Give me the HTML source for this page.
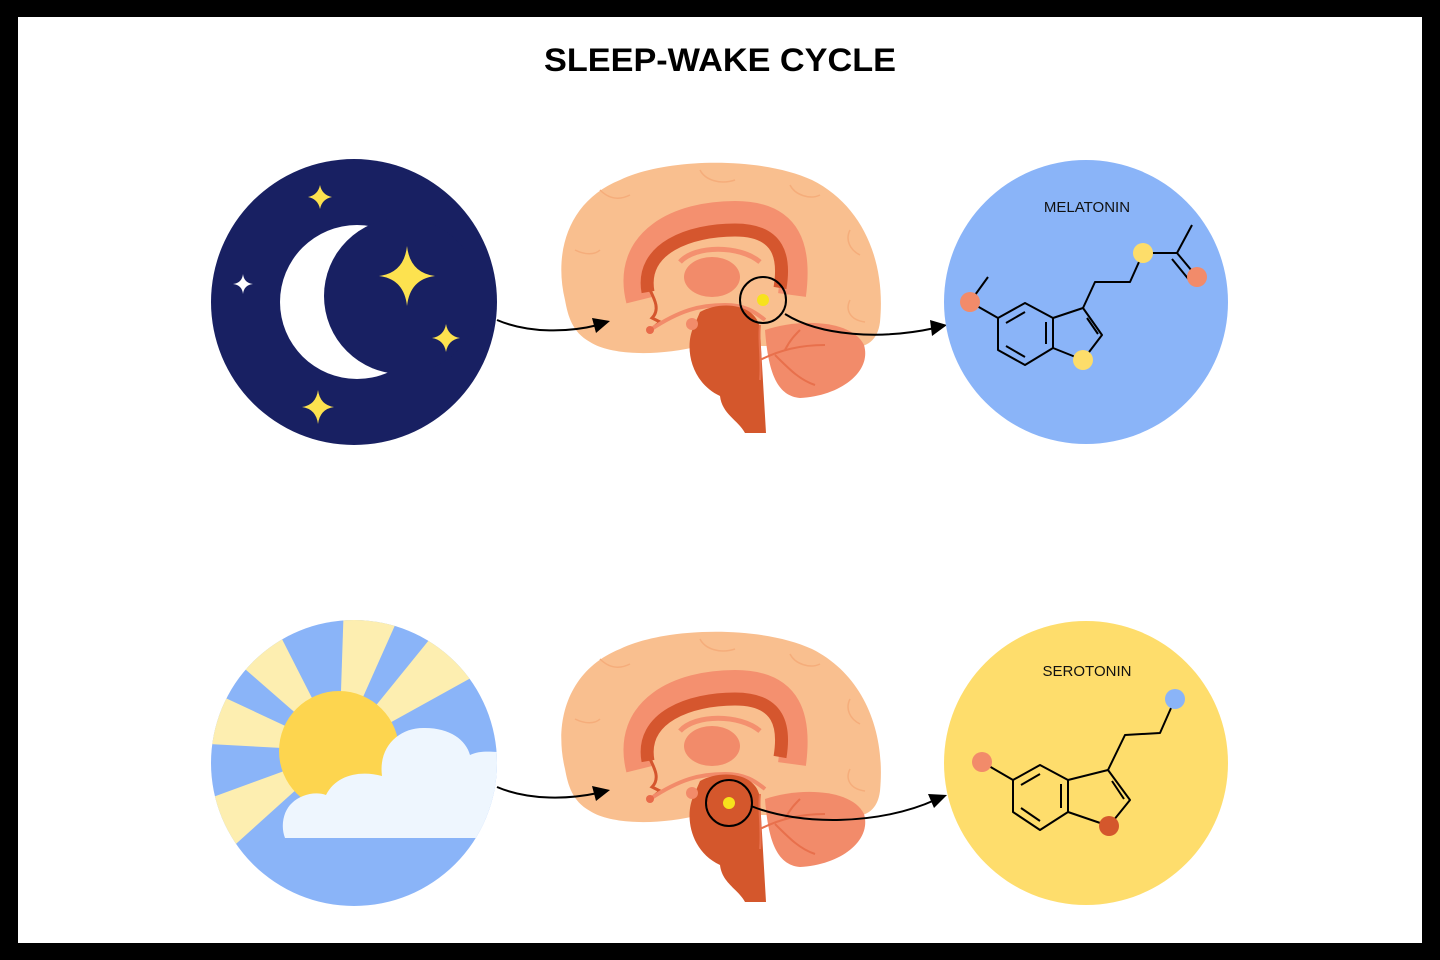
<!DOCTYPE html>
<html><head><meta charset="utf-8"><style>html,body{margin:0;padding:0;background:#000}svg{display:block}</style></head>
<body>
<svg width="1440" height="960" viewBox="0 0 1440 960" xmlns="http://www.w3.org/2000/svg">
<defs>
<clipPath id="sunclip"><circle cx="354" cy="763" r="143"/></clipPath>
<g id="brain">
 <path d="M565,300 C553,250 570,200 620,180 C665,158 760,156 812,180 C862,205 886,260 880,322 C877,346 860,350 840,346 L700,346 C660,356 612,356 590,342 C572,332 568,316 565,300Z" fill="#f9bf8f"/>
 <path d="M600,190 C610,200 620,200 630,195 M700,170 C705,180 720,185 735,180 M790,185 C795,195 810,200 820,195 M850,230 C845,240 850,250 860,255 M575,250 C585,255 595,255 600,250 M850,300 C845,310 850,320 865,322" fill="none" stroke="#f5ad7b" stroke-width="1.5"/>
 <path d="M640,300 C625,240 680,215 735,215 C790,215 798,250 792,295" fill="none" stroke="#f4906f" stroke-width="28"/>
 <path d="M648,292 C640,248 690,230 735,230 C780,230 785,258 780,288" fill="none" stroke="#d5562e" stroke-width="13"/>
 <path d="M650,290 C655,300 660,310 652,318 L660,322 L648,332" fill="none" stroke="#d5562e" stroke-width="3"/>
 <path d="M680,262 C695,245 740,245 760,262" fill="none" stroke="#f4906f" stroke-width="5"/>
 <ellipse cx="712" cy="277" rx="28" ry="20" fill="#f28b6a"/>
 <path d="M650,330 C680,310 700,305 725,305 C745,305 755,312 765,320" fill="none" stroke="#f28b6a" stroke-width="4"/>
 <path d="M765,330 C800,318 852,320 864,345 C872,372 840,396 800,398 C776,396 768,370 765,330Z" fill="#f28b6a"/>
 <path d="M700,312 C722,300 758,304 760,330 L766,433 L745,433 C738,420 722,414 720,396 C690,382 684,346 694,326 Z" fill="#d4572c"/>
 <path d="M760,325 C758,340 762,360 760,380 M760,360 C780,350 800,345 825,345 M775,355 C790,370 800,380 815,385 M785,350 C790,340 795,335 800,330" fill="none" stroke="#e8704c" stroke-width="2"/>
 <circle cx="650" cy="330" r="4" fill="#e86a4a"/>
 <circle cx="692" cy="324" r="6" fill="#f28b6a"/>
</g>
</defs>
<rect x="18" y="17" width="1404" height="926" fill="#fff"/>
<text x="720" y="71" text-anchor="middle" font-family="Liberation Sans, sans-serif" font-weight="bold" font-size="32" textLength="352" lengthAdjust="spacingAndGlyphs" fill="#000">SLEEP-WAKE CYCLE</text>

<!-- night -->
<circle cx="354" cy="302" r="143" fill="#182062"/>
<circle cx="357" cy="302" r="77" fill="#fff"/>
<circle cx="402" cy="296" r="78" fill="#182062"/>
<g fill="#fde24f">
 <path d="M320,185 Q322,195 332,197 Q322,199 320,209 Q318,199 308,197 Q318,195 320,185Z"/>
 <path d="M407,246 Q410,273 435,276 Q410,279 407,306 Q404,279 379,276 Q404,273 407,246Z"/>
 <path d="M446,324 Q448,336 460,338 Q448,340 446,352 Q444,340 432,338 Q444,336 446,324Z"/>
 <path d="M318,390 Q320,405 334,407 Q320,409 318,424 Q316,409 302,407 Q316,405 318,390Z"/>
</g>
<path d="M243,274 Q244,283 253,284 Q244,285 243,294 Q242,285 233,284 Q242,283 243,274Z" fill="#fff"/>

<!-- sun -->
<g clip-path="url(#sunclip)">
 <rect x="200" y="610" width="310" height="310" fill="#8ab4f8"/>
 <g fill="#fdeeb0" transform="translate(339,751)">
  <path d="M0,0 L-300,-16 L-272,-127 Z"/>
  <path d="M0,0 L-226,-197 L-136,-267 Z"/>
  <path d="M0,0 L10,-300 L122,-274 Z"/>
  <path d="M0,0 L189,-233 L262,-145 Z"/>
  <path d="M0,0 L-223,201 L-282,103 Z"/>
 </g>
 <circle cx="339" cy="751" r="60" fill="#fdd54f"/>
 <path d="M285,838 C280,825 284,810 292,803 C300,795 315,791 326,795 C336,775 360,770 382,776 C378,746 400,727 425,728 C450,728 466,740 470,755 C480,750 492,752 500,752 L500,838 Z" fill="#eef6fe"/>
</g>

<!-- brains -->
<use href="#brain"/>
<use href="#brain" transform="translate(0,469)"/>
<circle cx="763" cy="300" r="23" fill="none" stroke="#000" stroke-width="2"/>
<circle cx="763" cy="300" r="6" fill="#f7e21c"/>
<circle cx="729" cy="803" r="23" fill="none" stroke="#000" stroke-width="2"/>
<circle cx="729" cy="803" r="6" fill="#f7e21c"/>

<!-- arrows -->
<g fill="none" stroke="#000" stroke-width="2">
 <path d="M497,320 C530,334 570,332 598,325"/>
 <path d="M785,314 C820,336 880,340 935,328"/>
 <path d="M497,787 C530,801 570,799 598,793"/>
 <path d="M751,806 C800,826 880,825 935,800"/>
</g>
<g fill="#000">
 <path d="M610,321 L592,318 L596,333 Z"/>
 <path d="M947,325 L930,320 L932,336 Z"/>
 <path d="M610,790 L592,786 L596,801 Z"/>
 <path d="M947,795 L928,794 L934,808 Z"/>
</g>

<!-- melatonin -->
<circle cx="1086" cy="302" r="142" fill="#8ab4f8"/>
<text x="1087" y="212" text-anchor="middle" font-family="Liberation Sans, sans-serif" font-size="15" fill="#111">MELATONIN</text>
<g fill="none" stroke="#000" stroke-width="2" stroke-linejoin="round">
 <path d="M998,318 L1025,303 L1053,318 L1053,348 L1025,365 L998,350 Z"/>
 <path d="M1006,323 L1025,312 M1046,322 L1046,344 M1006,346 L1025,357"/>
 <path d="M1053,318 L1083,308 L1102,335 L1083,360 L1053,348"/>
 <path d="M1087,318 L1098,334"/>
 <path d="M1083,308 L1095,282 L1130,282 L1143,253 L1177,253 L1192,225"/>
 <path d="M1177,253 L1197,277 M1172,259 L1190,281"/>
 <path d="M998,318 L970,302 L988,277"/>
</g>
<circle cx="970" cy="302" r="10" fill="#f28b6a"/>
<circle cx="1143" cy="253" r="10" fill="#fddd6a"/>
<circle cx="1197" cy="277" r="10" fill="#f28b6a"/>
<circle cx="1083" cy="360" r="10" fill="#fddd6a"/>

<!-- serotonin -->
<circle cx="1086" cy="763" r="142" fill="#fedd6c"/>
<text x="1087" y="676" text-anchor="middle" font-family="Liberation Sans, sans-serif" font-size="15" fill="#111">SEROTONIN</text>
<g fill="none" stroke="#000" stroke-width="2" stroke-linejoin="round">
 <path d="M1013,780 L1040,765 L1068,780 L1068,812 L1040,830 L1013,812 Z"/>
 <path d="M1021,785 L1040,774 M1061,784 L1061,808 M1021,808 L1040,821"/>
 <path d="M1068,780 L1108,770 L1130,800 L1109,826 L1068,812"/>
 <path d="M1112,781 L1124,799"/>
 <path d="M1108,770 L1125,735 L1160,733 L1175,699"/>
 <path d="M1013,780 L982,762"/>
</g>
<circle cx="982" cy="762" r="10" fill="#f28b6a"/>
<circle cx="1109" cy="826" r="10" fill="#d4572c"/>
<circle cx="1175" cy="699" r="10" fill="#8ab4f8"/>
</svg>
</body></html>
